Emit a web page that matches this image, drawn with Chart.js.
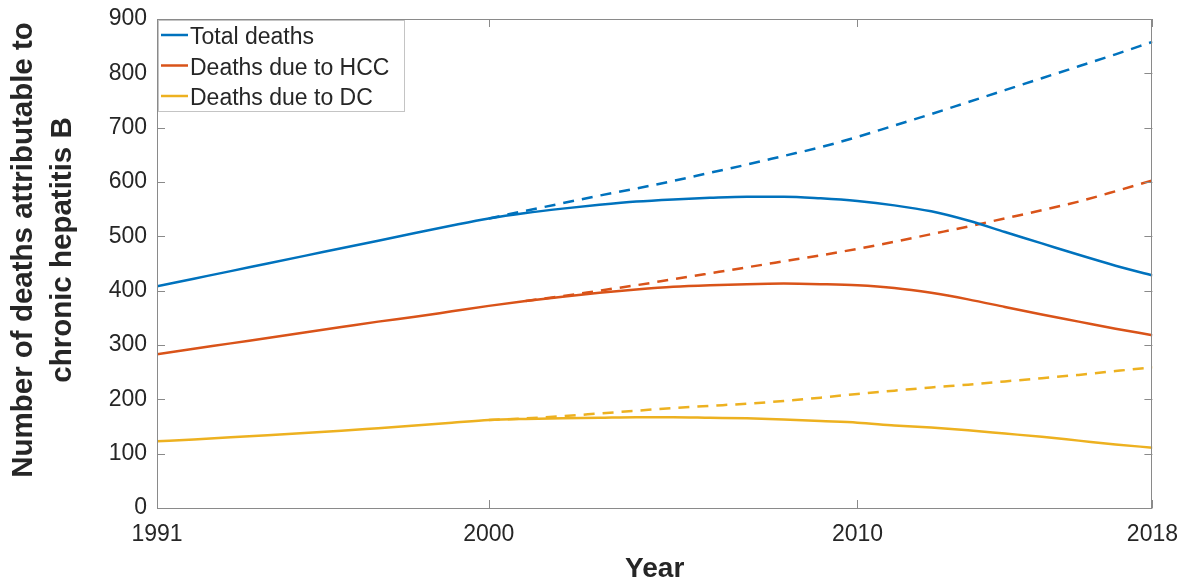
<!DOCTYPE html>
<html>
<head>
<meta charset="utf-8">
<script src="https://cdn.jsdelivr.net/npm/chart.js@4.4.1/dist/chart.umd.min.js"></script>
<style>
  html, body { margin: 0; padding: 0; background: #fff; }
  #wrap { width: 1191px; height: 585px; }
</style>
</head>
<body>
<div id="wrap"><canvas id="hbvChart" width="1191" height="585"></canvas></div>
<script>
// Data (deaths per year)
const years = [1991, 1992, 1993, 1994, 1995, 1996, 1997, 1998, 1999, 2000,
    2001, 2002, 2003, 2004, 2005, 2006, 2007, 2008, 2009, 2010,
    2011, 2012, 2013, 2014, 2015, 2016, 2017, 2018];

const totalDeaths = [408, 422, 436, 450, 464, 478, 492, 506, 520, 533,
    543, 551, 558, 564, 568, 571, 573, 573, 570, 565,
    557, 546, 529, 508, 487, 466, 446, 428];
const totalNoTreatment = [null, null, null, null, null, null, null, null, null, 533,
    547, 561, 575, 588, 602, 617, 632, 648, 664, 683,
    704, 725, 747, 769, 791, 813, 835, 858];

const hccDeaths = [283, 293, 303, 313, 323, 333, 343, 352, 362, 372,
    381, 389, 396, 402, 407, 410, 412, 413, 412, 410,
    405, 396, 384, 370, 356, 343, 330, 318];
const hccNoTreatment = [null, null, null, null, null, null, null, null, null, null,
    381, 390, 400, 410, 421, 432, 443, 454, 465, 477,
    490, 504, 518, 533, 548, 564, 583, 603];

const dcDeaths = [123, 126, 130, 134, 138, 142, 147, 152, 157, 162,
    164, 165, 166, 167, 167, 166, 165, 163, 160, 157,
    152, 148, 143, 137, 131, 124, 117, 111];
const dcNoTreatment = [null, null, null, null, null, null, null, null, null, 162,
    165, 169, 174, 179, 184, 188, 192, 197, 203, 210,
    216, 222, 227, 233, 239, 245, 252, 259];

const xTicks = [1991, 2000, 2010, 2018];
const yTicks = [0, 100, 200, 300, 400, 500, 600, 700, 800, 900];
const yTitle = ["Number of deaths attributable to", "chronic hepatitis B"];

const BLUE = "#0072BD";
const ORANGE = "#D95319";
const YELLOW = "#EDB120";
const FONT = "Arial, 'Liberation Sans', sans-serif";

function toPoints(values) {
    const pts = [];
    values.forEach((v, i) => {
        if (v !== null) pts.push({ x: years[i], y: v });
    });
    return pts;
}

function lineSet(label, values, color, dashed) {
    return {
        label: label,
        data: toPoints(values),
        borderColor: color,
        backgroundColor: color,
        borderWidth: 2.5,
        borderDash: dashed ? [11, 8] : [],
        pointRadius: 0,
        cubicInterpolationMode: "monotone",
        fill: false,
        showInLegend: !dashed,
    };
}

// frame, inside tick marks (MATLAB style box), legend and the y title
const boxAndLegend = {
    id: "boxAndLegend",
    afterDatasetsDraw(chart) {
        const { ctx, chartArea: a, scales } = chart;
        const x = scales.x;
        const y = scales.y;
        ctx.save();
        ctx.strokeStyle = "#8a8a8a";
        ctx.lineWidth = 1;
        ctx.setLineDash([]);
        ctx.strokeRect(Math.round(a.left) + 0.5, Math.round(a.top) + 0.5,
            Math.round(a.width) - 1, Math.round(a.height));

        const tl = 8;
        ctx.beginPath();
        y.ticks.forEach((t) => {
            const py = Math.round(y.getPixelForValue(t.value)) + 0.5;
            ctx.moveTo(a.left, py);
            ctx.lineTo(a.left + tl, py);
            ctx.moveTo(a.right, py);
            ctx.lineTo(a.right - tl, py);
        });
        x.ticks.forEach((t) => {
            const px = Math.round(x.getPixelForValue(t.value)) + 0.5;
            ctx.moveTo(px, a.bottom);
            ctx.lineTo(px, a.bottom - tl);
            ctx.moveTo(px, a.top);
            ctx.lineTo(px, a.top + tl);
        });
        ctx.stroke();

        // legend
        const items = chart.data.datasets.filter((d) => d.showInLegend);
        const bx = a.left + 1, by = a.top + 1, bw = 246, bh = 91;
        ctx.fillStyle = "#fff";
        ctx.fillRect(bx, by, bw, bh);
        ctx.strokeStyle = "#c4c4c4";
        ctx.strokeRect(bx + 0.5, by + 0.5, bw, bh);
        ctx.font = "23px " + FONT;
        ctx.textBaseline = "middle";
        ctx.textAlign = "left";
        items.forEach((d, i) => {
            const cy = by + 17 + i * 30.5;
            ctx.strokeStyle = d.borderColor;
            ctx.lineWidth = 2.5;
            ctx.beginPath();
            ctx.moveTo(bx + 3, cy - 2);
            ctx.lineTo(bx + 30, cy - 2);
            ctx.stroke();
            ctx.fillStyle = "#262626";
            ctx.fillText(d.label, bx + 32, cy + 1);
        });

        // y axis title, two rotated lines (sits a bit above the plot centre in the original)
        ctx.translate(0, 250);
        ctx.rotate(-Math.PI / 2);
        ctx.font = "bold 29.5px " + FONT;
        ctx.textAlign = "center";
        ctx.fillStyle = "#262626";
        yTitle.forEach((line, i) => {
            ctx.fillText(line, 0, 23.5 + i * 39.5);
        });
        ctx.restore();
    },
};

const chartElement = document.getElementById("hbvChart");

new Chart(chartElement, {
    type: "line",
    data: {
        datasets: [
            lineSet("Total deaths", totalDeaths, BLUE, false),
            lineSet("Deaths due to HCC", hccDeaths, ORANGE, false),
            lineSet("Deaths due to DC", dcDeaths, YELLOW, false),
            lineSet("Total deaths (no treatment)", totalNoTreatment, BLUE, true),
            lineSet("Deaths due to HCC (no treatment)", hccNoTreatment, ORANGE, true),
            lineSet("Deaths due to DC (no treatment)", dcNoTreatment, YELLOW, true),
        ],
    },
    options: {
        responsive: false,
        animation: false,
        layout: {
            padding: { top: 19, right: 38, left: 0, bottom: 0 },
        },
        plugins: {
            legend: { display: false },
            tooltip: { enabled: false },
        },
        scales: {
            x: {
                type: "linear",
                min: 1991,
                max: 2018,
                afterBuildTicks: (scale) => {
                    scale.ticks = xTicks.map((v) => ({ value: v }));
                },
                afterFit: (scale) => {
                    scale.height = 77;
                },
                ticks: {
                    autoSkip: false,
                    maxRotation: 0,
                    padding: 13,
                    color: "#262626",
                    font: { family: FONT, size: 23 },
                    callback: (value) => String(value),
                },
                grid: { drawOnChartArea: false, drawTicks: false },
                border: { display: false },
                title: {
                    display: true,
                    text: "Year",
                    color: "#262626",
                    font: { family: FONT, size: 28, weight: "bold", lineHeight: 1.1 },
                    padding: { top: 0, bottom: 0 },
                },
            },
            y: {
                min: 0,
                max: 900,
                afterBuildTicks: (scale) => {
                    scale.ticks = yTicks.map((v) => ({ value: v }));
                },
                afterFit: (scale) => {
                    scale.width = 157;
                },
                ticks: {
                    padding: 10,
                    color: "#262626",
                    // small lineHeight so the top label does not push the plot down
                    font: { family: FONT, size: 23, lineHeight: 0.6 },
                },
                grid: { drawOnChartArea: false, drawTicks: false },
                border: { display: false },
                title: { display: false },
            },
        },
    },
    plugins: [boxAndLegend],
});
</script>
</body>
</html>
